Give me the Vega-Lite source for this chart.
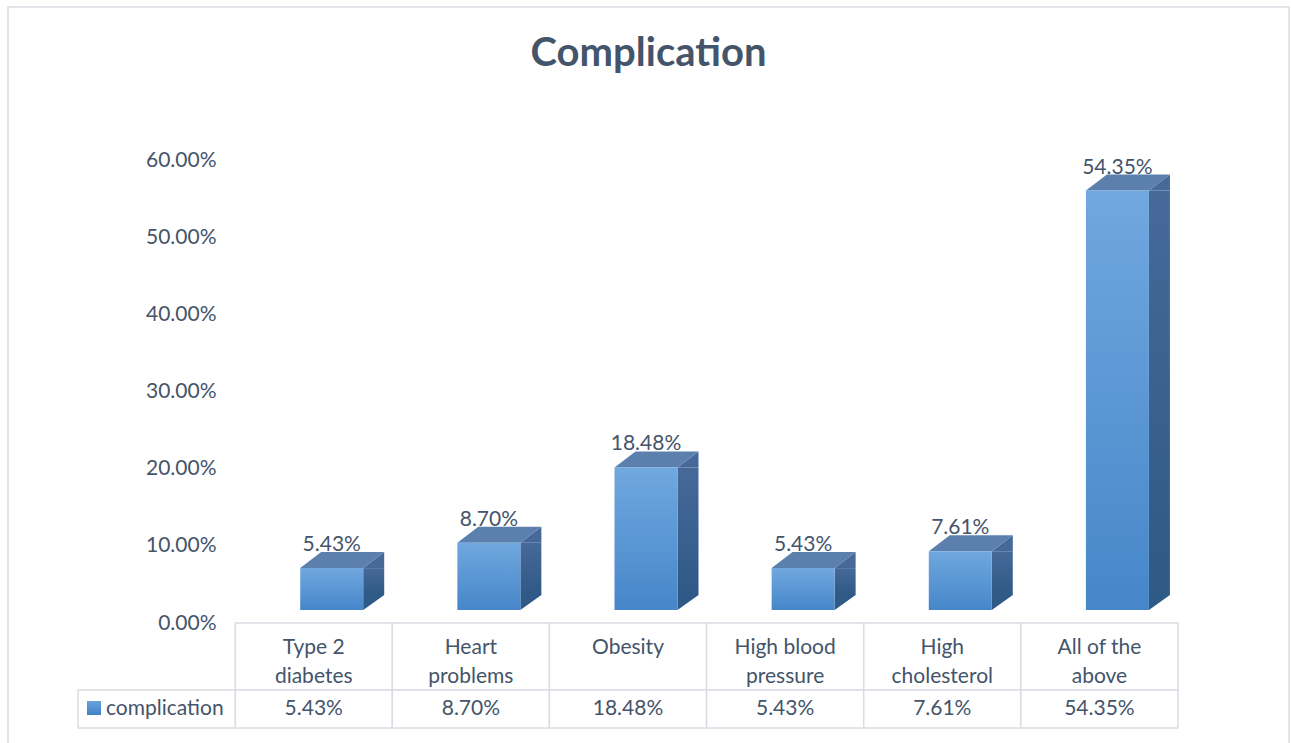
{
  "$schema": "https://vega.github.io/schema/vega-lite/v6.json",
  "width": 1281,
  "height": 737,
  "autosize": {"type": "none"},
  "padding": {"left": 8, "top": 7, "right": 2, "bottom": 0},
  "background": "white",
  "config": {
    "view": {"stroke": "#dadde3", "strokeWidth": 1.5},
    "font": "Lato",
    "text": {"font": "Lato", "fontSize": 21, "color": "#44546a"}
  },
  "title": {
    "text": "Complication",
    "font": "Lato",
    "fontSize": 40,
    "fontWeight": "bold",
    "color": "#44546a",
    "anchor": "middle",
    "frame": "group",
    "baseline": "alphabetic",
    "offset": -99
  },
  "data": {
    "values": [
      {"category": "Type 2 diabetes", "value": 0.0543, "series": "complication"},
      {"category": "Heart problems", "value": 0.087, "series": "complication"},
      {"category": "Obesity", "value": 0.1848, "series": "complication"},
      {"category": "High blood pressure", "value": 0.0543, "series": "complication"},
      {"category": "High cholesterol", "value": 0.0761, "series": "complication"},
      {"category": "All of the above", "value": 0.5435, "series": "complication"}
    ]
  },
  "layer": [
    {
      "description": "data table: category header cells",
      "mark": {"type": "rect", "fill": "white", "stroke": "#d9dde3", "strokeWidth": 1.5, "yOffset": 13, "y2Offset": 80},
      "encoding": {
        "x": {
          "field": "category",
          "type": "nominal",
          "title": null,
          "scale": {
            "domain": ["complication", "Type 2 diabetes", "Heart problems", "Obesity", "High blood pressure", "High cholesterol", "All of the above"],
            "paddingInner": 0,
            "paddingOuter": 0.57595,
            "align": 0.38674
          },
          "axis": {
            "orient": "bottom",
            "offset": -121,
            "title": null,
            "domain": false,
            "ticks": false,
            "grid": false,
            "labelPadding": 13,
            "labelFont": "Lato",
            "labelFontSize": 21,
            "labelColor": "#44546a",
            "labelLineHeight": 29,
            "labelBaseline": "top",
            "labelAngle": 0,
            "labelLimit": 0,
            "labelOverlap": false,
            "labelBound": false,
            "labelExpr": "datum.label == 'complication' ? '' : (indexof(datum.label, ' ') < 0 ? datum.label : [slice(datum.label, 0, lastindexof(datum.label, ' ')), slice(datum.label, lastindexof(datum.label, ' ') + 1)])"
          }
        },
        "y": {"datum": 0},
        "y2": {"datum": 0}
      }
    },
    {
      "description": "data table: value cells",
      "mark": {"type": "rect", "fill": "white", "stroke": "#d9dde3", "strokeWidth": 1.5, "yOffset": 80, "y2Offset": 118},
      "encoding": {
        "x": {"field": "category", "type": "nominal", "title": null},
        "y": {"datum": 0},
        "y2": {"datum": 0}
      }
    },
    {
      "description": "data table: values",
      "mark": {"type": "text", "baseline": "alphabetic", "dy": 105, "fontSize": 21, "color": "#44546a"},
      "encoding": {
        "x": {"field": "category", "type": "nominal", "title": null},
        "y": {"datum": 0},
        "text": {"field": "value", "type": "quantitative", "format": ".2%"}
      }
    },
    {
      "description": "data table: series header cell with its key",
      "transform": [{"aggregate": [{"op": "count", "as": "n"}], "groupby": ["series"]}],
      "layer": [
        {
          "mark": {"type": "rect", "fill": "white", "stroke": "#d9dde3", "strokeWidth": 1.5, "yOffset": 80, "y2Offset": 118},
          "encoding": {
            "x": {"field": "series", "type": "nominal", "title": null},
            "y": {"datum": 0},
            "y2": {"datum": 0}
          }
        },
        {
          "mark": {
            "type": "point",
            "shape": "square",
            "size": 196,
            "filled": true,
            "opacity": 1,
            "strokeWidth": 0,
            "xOffset": -62.6,
            "yOffset": 98,
            "fill": {"gradient": "linear", "x1": 0, "y1": 0, "x2": 0, "y2": 1, "stops": [{"offset": 0, "color": "#6aa3dc"}, {"offset": 1, "color": "#3f80c6"}]}
          },
          "encoding": {
            "x": {"field": "series", "type": "nominal", "title": null},
            "y": {"datum": 0}
          }
        },
        {
          "mark": {"type": "text", "align": "left", "baseline": "alphabetic", "dx": -50.6, "dy": 105, "fontSize": 21, "color": "#44546a"},
          "encoding": {
            "x": {"field": "series", "type": "nominal", "title": null},
            "y": {"datum": 0},
            "text": {"field": "series", "type": "nominal"}
          }
        }
      ]
    },
    {
      "description": "column side faces",
      "mark": {
        "type": "bar",
        "width": 21,
        "xOffset": 60,
        "y2Offset": -15,
        "fill": {"gradient": "linear", "x1": 0, "y1": 0, "x2": 0, "y2": 1, "stops": [{"offset": 0, "color": "#46699a"}, {"offset": 1, "color": "#2f5986"}]}
      },
      "encoding": {
        "x": {"field": "category", "type": "nominal", "title": null},
        "y": {"field": "value", "type": "quantitative"},
        "y2": {"datum": 0}
      }
    },
    {
      "description": "side face, lower corner",
      "mark": {"type": "point", "shape": "M 31.5 -15 L 52.5 -15 L 31.5 0 Z", "size": 4, "filled": true, "opacity": 1, "strokeWidth": 0, "fill": "#2f5986", "xOffset": 18},
      "encoding": {
        "x": {"field": "category", "type": "nominal", "title": null},
        "y": {"datum": 0}
      }
    },
    {
      "description": "side face, upper corner",
      "mark": {"type": "point", "shape": "M 31.5 0 L 52.5 -16 L 52.5 0 Z", "size": 4, "filled": true, "opacity": 1, "strokeWidth": 0, "fill": "#46699a", "xOffset": 18},
      "encoding": {
        "x": {"field": "category", "type": "nominal", "title": null},
        "y": {"field": "value", "type": "quantitative"}
      }
    },
    {
      "description": "column top faces",
      "mark": {"type": "point", "shape": "M -31.5 0 L 31.5 0 L 52.5 -16 L -10.5 -16 Z", "size": 4, "filled": true, "opacity": 1, "strokeWidth": 0, "fill": "#5b80ae", "xOffset": 18},
      "encoding": {
        "x": {"field": "category", "type": "nominal", "title": null},
        "y": {"field": "value", "type": "quantitative"}
      }
    },
    {
      "description": "column front faces",
      "mark": {
        "type": "bar",
        "width": 63,
        "xOffset": 18,
        "fill": {"gradient": "linear", "x1": 0, "y1": 0, "x2": 0, "y2": 1, "stops": [{"offset": 0, "color": "#70a8df"}, {"offset": 1, "color": "#4686c9"}]}
      },
      "encoding": {
        "x": {"field": "category", "type": "nominal", "title": null},
        "y": {
          "field": "value",
          "type": "quantitative",
          "title": null,
          "scale": {"domain": [0, 0.6], "range": [603, 140], "nice": false},
          "axis": {
            "orient": "left",
            "offset": -208,
            "values": [0, 0.1, 0.2, 0.3, 0.4, 0.5, 0.6],
            "format": ".2%",
            "title": null,
            "domain": false,
            "ticks": false,
            "grid": false,
            "labelPadding": 0,
            "labelOffset": 13,
            "labelFont": "Lato",
            "labelFontSize": 21,
            "labelColor": "#44546a"
          }
        },
        "y2": {"datum": 0}
      }
    },
    {
      "description": "value labels above the columns",
      "mark": {"type": "text", "baseline": "alphabetic", "dx": 18, "dy": -17, "fontSize": 21, "color": "#44546a"},
      "encoding": {
        "x": {"field": "category", "type": "nominal", "title": null},
        "y": {"field": "value", "type": "quantitative"},
        "text": {"field": "value", "type": "quantitative", "format": ".2%"}
      }
    }
  ]
}
